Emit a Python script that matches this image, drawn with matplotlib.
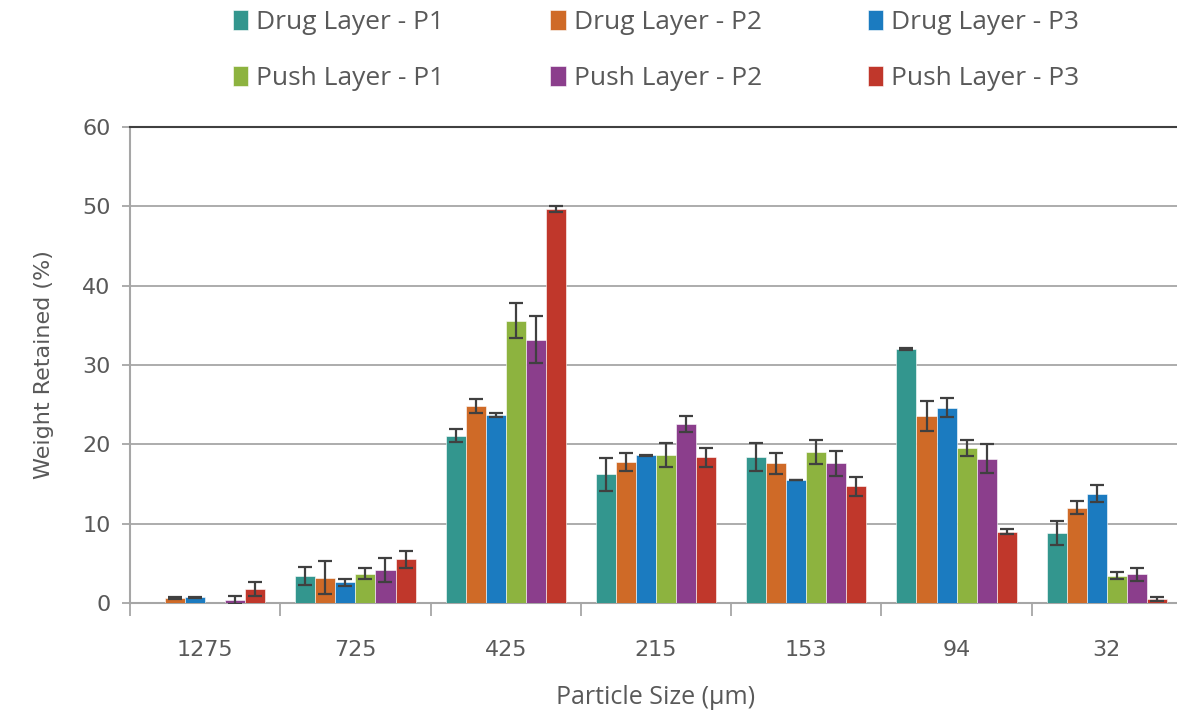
import numpy as np
import matplotlib
matplotlib.use("Agg")
import matplotlib.pyplot as plt

# particle size classes (sieve sizes, um)
sizes = ["1275", "725", "425", "215", "153", "94", "32"]

series_names = ["Drug Layer - P1", "Drug Layer - P2", "Drug Layer - P3",
                "Push Layer - P1", "Push Layer - P2", "Push Layer - P3"]

# weight retained (%)
drug_p1 = [0.0, 3.4, 21.1, 16.2, 18.4, 32.0, 8.8]
drug_p2 = [0.6, 3.2, 24.8, 17.8, 17.6, 23.6, 12.0]
drug_p3 = [0.7, 2.6, 23.7, 18.6, 15.5, 24.6, 13.8]
push_p1 = [0.0, 3.7, 35.6, 18.7, 19.0, 19.5, 3.45]
push_p2 = [0.4, 4.2, 33.2, 22.6, 17.6, 18.2, 3.6]
push_p3 = [1.8, 5.5, 49.7, 18.4, 14.7, 9.0, 0.5]

# standard deviations
drug_p1_sd = [0.0, 1.1, 0.8, 2.1, 1.8, 0.1, 1.5]
drug_p2_sd = [0.1, 2.1, 0.9, 1.1, 1.3, 1.9, 0.8]
drug_p3_sd = [0.1, 0.4, 0.2, 0.1, 0.05, 1.2, 1.1]
push_p1_sd = [0.0, 0.7, 2.2, 1.5, 1.5, 1.0, 0.4]
push_p2_sd = [0.5, 1.5, 3.0, 1.0, 1.6, 1.8, 0.8]
push_p3_sd = [0.9, 1.1, 0.4, 1.2, 1.2, 0.3, 0.2]

values = [drug_p1, drug_p2, drug_p3, push_p1, push_p2, push_p3]
errors = [drug_p1_sd, drug_p2_sd, drug_p3_sd, push_p1_sd, push_p2_sd, push_p3_sd]
colors = ["#33968e", "#cf6a27", "#1b7bc0", "#8db33f", "#8b3e8c", "#c0372b"]

txt = "#595959"
narrow = ['Open Sans', 'DejaVu Sans']
plt.rcParams['font.family'] = ['DejaVu Sans']

fig = plt.figure(figsize=(11.77, 7.15), dpi=100)
ax = fig.add_axes([130 / 1177, 112 / 715, 1052 / 1177, 476 / 715])

x = np.arange(len(sizes))
w = 0.8 / 6
handles = []
for i in range(6):
    pos = x - 0.4 + w * (i + 0.5)
    b = ax.bar(pos, values[i], w, color=colors[i], edgecolor="white",
               linewidth=0.4, label=series_names[i], zorder=3)
    handles.append(b)
    # skip error bars on empty classes
    has = np.array(values[i]) > 0
    ax.errorbar(pos[has], np.array(values[i])[has], yerr=np.array(errors[i])[has],
                fmt="none", ecolor="#404040", elinewidth=1.6, capsize=5,
                capthick=1.6, zorder=4)

ax.set_xlim(-0.5, 6.5)
ax.set_ylim(0, 60)
ax.set_yticks(range(0, 61, 10))
ax.grid(axis="y", color="#a6a6a6", linewidth=1.3, zorder=0)
ax.set_axisbelow(True)

ax.set_xticks(x)
ax.set_xticklabels(sizes)
ax.set_xticks(np.arange(-0.5, 7, 1), minor=True)
ax.tick_params(axis="x", which="major", length=0, pad=27, labelsize=16, labelcolor=txt)
ax.tick_params(axis="x", which="minor", length=9, width=1.3, color="#a6a6a6")
ax.tick_params(axis="y", length=6, width=1.3, color="#a6a6a6", labelsize=16,
               labelcolor=txt, pad=8)

ax.spines["right"].set_visible(False)
ax.spines["top"].set_color("#404040")
ax.spines["top"].set_linewidth(1.5)
for s in ["left", "bottom"]:
    ax.spines[s].set_color("#a6a6a6")
    ax.spines[s].set_linewidth(1.5)

ax.set_xlabel("Particle Size (µm)", fontsize=18, color=txt, labelpad=18,
              family=narrow)
ax.set_ylabel("Weight Retained (%)", fontsize=16, color=txt, labelpad=20)

# legend rows: drug layers on top, push layers below
order = [0, 3, 1, 4, 2, 5]
fig.legend([handles[k] for k in order], [series_names[k] for k in order],
           ncol=3, loc="upper center", bbox_to_anchor=(656 / 1177, 1.012),
           frameon=False, prop={'family': narrow, 'size': 19}, labelcolor=txt,
           handlelength=0.6, handleheight=0.8, handletextpad=0.3,
           columnspacing=4.0, labelspacing=1.15, borderpad=0.2)

fig.savefig("out.png", dpi=100)
